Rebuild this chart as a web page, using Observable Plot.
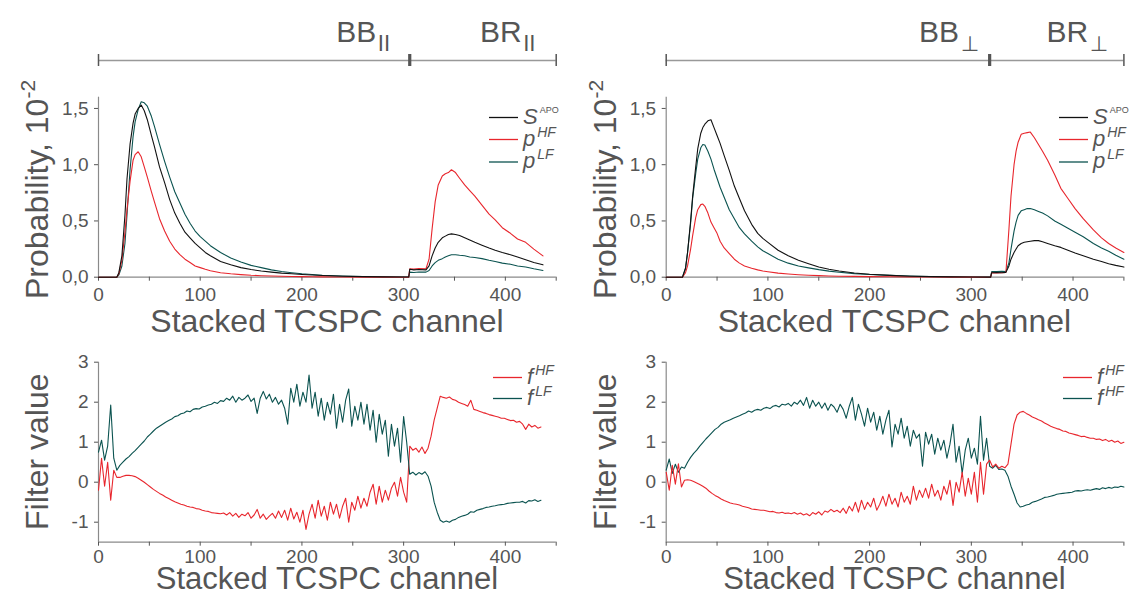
<!DOCTYPE html>
<html><head><meta charset="utf-8">
<script src="https://cdn.jsdelivr.net/npm/d3@7"></script>
<script src="https://cdn.jsdelivr.net/npm/@observablehq/plot@0.6"></script>
<style>
body{margin:0;background:#fff;}
#wrap{position:relative;width:1130px;height:596px;overflow:hidden;background:#fff;}
#wrap > svg{position:absolute;overflow:visible;}
</style></head><body><div id="wrap"></div>
<script>
// ---------- data: top panels (probability, 10^-2) ----------
const chTL = [0,18,20,23,26,28,31,34,36,39,42,45,48,52,55,60,65,70,75,80,85,90,95,100,105,110,120,130,140,150,160,170,180,190,200,210,220,240,260,280,300,305,306,310,315,322,325,328,331,334,338,341,344,347,351,355,360,365,370,377,384,390,397,405,412,420,428,437];
const sApoTL = [0,0,0.04,0.19,0.55,0.87,1.18,1.37,1.45,1.50,1.53,1.48,1.40,1.26,1.16,0.98,0.84,0.69,0.57,0.48,0.40,0.35,0.30,0.26,0.22,0.19,0.14,0.11,0.085,0.068,0.055,0.045,0.036,0.030,0.024,0.019,0.015,0.009,0.005,0.003,0.002,0.002,0.07,0.065,0.068,0.065,0.10,0.19,0.26,0.31,0.35,0.365,0.38,0.385,0.38,0.37,0.35,0.33,0.31,0.285,0.26,0.24,0.22,0.20,0.18,0.155,0.13,0.11];
const pHfTL = [0,0,0.03,0.15,0.40,0.60,0.85,1.04,1.09,1.115,1.07,0.98,0.89,0.76,0.67,0.52,0.41,0.32,0.25,0.20,0.16,0.13,0.10,0.085,0.07,0.058,0.04,0.03,0.023,0.017,0.013,0.01,0.008,0.006,0.005,0.004,0.003,0.002,0.001,0.001,0,0,0.075,0.072,0.078,0.075,0.16,0.43,0.67,0.82,0.90,0.92,0.93,0.955,0.93,0.88,0.82,0.77,0.72,0.64,0.56,0.51,0.44,0.39,0.34,0.31,0.25,0.19];
const pLfTL = [0,0,0.02,0.10,0.30,0.55,0.95,1.25,1.38,1.49,1.56,1.55,1.52,1.43,1.34,1.18,1.03,0.89,0.76,0.66,0.56,0.48,0.41,0.36,0.32,0.28,0.22,0.17,0.135,0.105,0.085,0.065,0.05,0.04,0.03,0.024,0.018,0.011,0.006,0.004,0.002,0.002,0.045,0.042,0.046,0.045,0.06,0.10,0.13,0.15,0.165,0.18,0.19,0.20,0.20,0.195,0.19,0.18,0.175,0.165,0.15,0.14,0.125,0.115,0.10,0.09,0.075,0.06];

const chTR = [0,16,19,21,24,26,29,31,34,36,38,41,44,47,50,53,57,62,67,72,77,84,90,95,100,110,120,130,140,150,160,170,185,200,220,240,260,280,300,319,320,325,330,334,337,339,342,344,346,349,352,355,358,362,366,370,375,382,388,395,402,410,420,428,435,442,450];
const sApoTR = [0,0,0.08,0.22,0.50,0.72,0.98,1.14,1.28,1.33,1.36,1.39,1.40,1.33,1.26,1.19,1.08,0.95,0.81,0.70,0.59,0.47,0.39,0.345,0.31,0.24,0.19,0.15,0.12,0.09,0.07,0.055,0.037,0.026,0.016,0.009,0.005,0.003,0.002,0.001,0.04,0.042,0.04,0.043,0.10,0.16,0.22,0.25,0.28,0.30,0.31,0.315,0.32,0.325,0.325,0.315,0.30,0.28,0.265,0.24,0.215,0.19,0.16,0.14,0.12,0.105,0.09];
const pHfTR = [0,0,0.04,0.10,0.25,0.37,0.53,0.60,0.645,0.65,0.63,0.57,0.49,0.44,0.39,0.32,0.26,0.21,0.16,0.125,0.10,0.08,0.065,0.055,0.048,0.036,0.028,0.022,0.018,0.014,0.011,0.009,0.007,0.005,0.004,0.003,0.002,0.001,0.001,0,0.04,0.038,0.04,0.042,0.43,0.72,1.0,1.12,1.20,1.27,1.28,1.285,1.29,1.24,1.18,1.12,1.04,0.91,0.79,0.70,0.61,0.52,0.42,0.35,0.30,0.26,0.22];
const pLfTR = [0,0,0.08,0.22,0.48,0.70,0.92,1.05,1.15,1.18,1.175,1.12,1.05,0.96,0.88,0.80,0.71,0.60,0.52,0.44,0.385,0.32,0.27,0.235,0.21,0.16,0.125,0.10,0.083,0.067,0.054,0.044,0.032,0.024,0.016,0.01,0.006,0.004,0.002,0.001,0.05,0.05,0.052,0.05,0.13,0.25,0.41,0.49,0.55,0.59,0.60,0.61,0.61,0.60,0.585,0.57,0.545,0.50,0.47,0.435,0.40,0.36,0.30,0.26,0.23,0.195,0.16];

// ---------- data: bottom panels (filter values), channel step 3 ----------
const chStep = 3;
const fLfBL = [0.75,1.05,0.55,0.9,1.93,0.6,0.3,0.42,0.5,0.58,
 0.64,0.72,0.79,0.87,0.95,1.03,1.13,1.2,1.28,1.35,
 1.4,1.45,1.5,1.54,1.58,1.64,1.66,1.71,1.73,1.78,
 1.76,1.82,1.84,1.83,1.88,1.9,1.93,1.95,2.0,1.97,
 2.04,2.02,2.1,2.05,2.15,2.0,2.12,2.05,2.1,2.18,
 2.02,2.1,1.72,2.1,2.27,2.08,2.2,2.0,2.12,1.95,
 2.05,1.85,1.45,2.35,2.0,2.45,1.9,2.25,2.0,2.68,
 1.85,2.25,1.65,2.1,1.55,2.0,1.7,2.2,1.35,1.95,
 1.5,2.05,2.33,1.4,1.9,1.55,2.0,1.45,1.95,1.3,
 1.8,1.0,1.7,1.2,1.55,0.65,1.45,0.9,1.35,0.5,
 1.64,1.0,0.2,0.25,0.18,0.24,0.2,0.26,0.15,-0.1,
 -0.5,-0.75,-0.95,-1.0,-0.97,-1.0,-0.95,-0.93,-0.88,-0.85,
 -0.83,-0.8,-0.74,-0.75,-0.7,-0.68,-0.66,-0.63,-0.62,-0.6,
 -0.59,-0.57,-0.56,-0.55,-0.53,-0.52,-0.51,-0.5,-0.5,-0.48,
 -0.52,-0.46,-0.47,-0.44,-0.48,-0.45];
const fHfBL = [-0.2,0.6,-0.1,0.5,-0.45,0.3,0.12,0.12,0.15,0.17,
 0.17,0.16,0.14,0.1,0.05,0.0,-0.06,-0.12,-0.18,-0.23,
 -0.28,-0.32,-0.37,-0.41,-0.45,-0.49,-0.52,-0.55,-0.57,-0.6,
 -0.62,-0.63,-0.66,-0.67,-0.7,-0.72,-0.73,-0.76,-0.77,-0.78,
 -0.79,-0.77,-0.82,-0.76,-0.85,-0.78,-0.88,-0.8,-0.84,-0.76,
 -0.9,-0.82,-0.68,-0.9,-0.8,-0.93,-0.85,-0.78,-0.9,-0.72,
 -0.88,-0.7,-0.95,-0.65,-0.92,-0.75,-1.0,-0.7,-1.18,-0.8,
 -0.55,-0.9,-0.45,-0.85,-0.6,-0.95,-0.5,-0.8,-0.55,-0.9,
 -0.6,-0.4,-1.0,-0.5,-0.7,-0.35,-0.65,-0.4,-0.6,-0.25,
 -0.05,-0.55,-0.1,-0.5,-0.2,-0.45,-0.15,0.0,-0.35,0.12,
 -0.25,-0.5,0.9,0.8,0.85,0.75,0.88,0.72,0.85,1.15,
 1.55,1.85,2.15,2.12,2.1,2.13,2.07,2.05,2.0,1.97,
 1.94,1.9,2.05,1.82,1.8,1.77,1.74,1.72,1.69,1.67,
 1.65,1.63,1.6,1.6,1.57,1.54,1.55,1.5,1.52,1.45,
 1.32,1.45,1.38,1.42,1.35,1.38];
const fLfBR = [0.3,0.58,0.22,0.45,0.25,0.38,0.35,0.5,0.62,0.72,
 0.8,0.9,0.99,1.08,1.16,1.24,1.32,1.37,1.45,1.5,
 1.53,1.56,1.6,1.63,1.66,1.7,1.73,1.78,1.75,1.8,
 1.82,1.8,1.85,1.87,1.84,1.9,1.92,1.88,1.95,1.93,
 1.97,1.9,2.0,1.95,2.05,1.92,2.12,1.85,2.05,1.9,
 2.0,1.85,1.98,1.8,1.95,1.88,1.75,1.95,1.82,1.6,
 1.9,2.12,1.55,1.95,1.7,1.4,1.85,1.5,1.75,1.3,
 1.65,1.2,1.55,1.8,0.88,1.45,1.2,1.6,1.1,1.4,
 0.9,1.3,1.1,1.2,0.4,1.25,0.95,1.2,0.7,1.1,
 0.8,1.05,0.6,0.95,1.45,0.5,0.9,0.22,0.8,1.1,
 0.6,0.85,0.45,1.65,0.55,1.1,0.4,0.35,0.42,0.32,
 0.33,0.3,0.15,-0.1,-0.3,-0.52,-0.62,-0.6,-0.57,-0.55,
 -0.5,-0.48,-0.45,-0.42,-0.38,-0.37,-0.35,-0.33,-0.3,-0.29,
 -0.28,-0.27,-0.26,-0.25,-0.22,-0.21,-0.22,-0.2,-0.19,-0.2,
 -0.18,-0.16,-0.18,-0.14,-0.16,-0.13,-0.15,-0.12,-0.13,-0.1,-0.12];
const fHfBR = [0.25,-0.2,0.42,-0.05,0.46,-0.12,0.05,0.06,0.05,0.02,
 -0.02,-0.06,-0.1,-0.15,-0.22,-0.28,-0.33,-0.37,-0.42,-0.46,
 -0.49,-0.52,-0.54,-0.55,-0.57,-0.6,-0.62,-0.64,-0.67,-0.68,
 -0.69,-0.7,-0.7,-0.72,-0.74,-0.73,-0.76,-0.77,-0.75,-0.78,
 -0.77,-0.79,-0.76,-0.8,-0.77,-0.82,-0.79,-0.84,-0.76,-0.8,
 -0.74,-0.82,-0.72,-0.75,-0.68,-0.74,-0.7,-0.76,-0.65,-0.78,
 -0.6,-0.72,-0.5,-0.75,-0.45,-0.68,-0.5,-0.62,-0.4,-0.7,
 -0.55,-0.35,-0.6,-0.3,-0.55,-0.4,-0.62,-0.25,-0.5,-0.35,
 -0.55,-0.1,-0.45,-0.2,-0.38,-0.15,-0.4,-0.05,-0.35,-0.2,
 -0.45,-0.1,-0.3,0.05,-0.58,0.0,-0.25,0.25,-0.35,0.1,
 -0.3,0.25,-0.5,0.5,-0.3,0.45,0.55,0.38,0.45,0.35,
 0.4,0.36,0.45,0.95,1.45,1.68,1.75,1.77,1.72,1.68,
 1.63,1.6,1.56,1.53,1.48,1.44,1.4,1.37,1.34,1.32,
 1.28,1.27,1.23,1.21,1.19,1.17,1.14,1.15,1.12,1.1,
 1.1,1.07,1.08,1.04,1.07,1.02,1.05,1.0,1.03,0.97,1.0];

// ---------- labels ----------
const xTicksMajor = [0,100,200,300,400];
const xTicksAll = [0,50,100,150,200,250,300,350,400,450];
const yTicksTop = [0,0.5,1.0,1.5];
const yTicksBottom = [-1,0,1,2,3];
const xTitle = "Stacked TCSPC channel";
const yTitleTop = "Probability, 10";
const yTitleTopExp = "-2";
const yTitleBottom = "Filter value";
const legendTopL = [["S","APO"],["p","HF"],["p","LF"]];
const legendTopR = [["S","APO"],["p","HF"],["p","LF"]];
const legendBotL = [["f","HF"],["f","LF"]];
const legendBotR = [["f","HF"],["f","HF"]];
const boundaryL = 306, boundaryR = 318;

// ---------- style ----------
const FONT = '"Liberation Sans", Arial, Helvetica, sans-serif';
const TXT = "#555";
const C_BLACK = "#111", C_RED = "#e8262d", C_TEAL = "#0b5350";
const wrap = document.getElementById("wrap");

function panel({left, top, height, mL, mR, mT, mB, yDomain, yTicks, yFmt, lines, tickPad}) {
  const marks = [
    Plot.ruleY([yDomain[0]], {stroke:"#8a8a8a", strokeWidth:1.2}),
    Plot.ruleX([0], {stroke:"#8a8a8a", strokeWidth:1.2}),
    Plot.axisX({ticks: xTicksAll, tickFormat: d => xTicksMajor.includes(d) ? String(d) : "", tickSize: 4, tickPadding: tickPad, color: TXT, label: null}),
    Plot.axisY({ticks: yTicks, tickFormat: yFmt, tickSize: 4, tickPadding: 6, color: TXT, label: null}),
    ...lines.map(l => Plot.line(l.y, {x: (d, i) => l.x[i], y: d => d, stroke: l.color, strokeWidth: 1.1}))
  ];
  const svg = Plot.plot({
    width: 565, height, marginLeft: mL, marginRight: mR, marginTop: mT, marginBottom: mB,
    x: {domain: [0, 450]}, y: {domain: yDomain},
    style: {fontFamily: FONT, fontSize: "19px", background: "transparent", overflow: "visible"},
    marks
  });
  svg.style.left = left + "px"; svg.style.top = top + "px";
  wrap.appendChild(svg);
  return svg;
}

function addTitles(svg, {xCenter, xBase, xSize, yX, yY, rotText, exp, anchor}) {
  const s = d3.select(svg);
  s.append("text").attr("x", xCenter).attr("y", xBase).attr("text-anchor", "middle")
    .attr("font-family", FONT).attr("font-size", xSize).attr("fill", TXT).text(xTitle);
  const t = s.append("text").attr("transform", `translate(${yX},${yY}) rotate(-90)`)
    .attr("text-anchor", anchor).attr("font-family", FONT).attr("font-size", 32).attr("fill", TXT);
  t.append("tspan").text(rotText);
  if (exp) t.append("tspan").attr("dy", -13).attr("font-size", 21).text(exp);
}

function addLegend(svg, x0, ys, items, colors) {
  const g = d3.select(svg).append("g").attr("text-anchor", "start");
  items.forEach((it, i) => {
    g.append("line").attr("x1", x0).attr("x2", x0 + 29).attr("y1", ys[i]).attr("y2", ys[i])
      .attr("stroke", colors[i]).attr("stroke-width", 1.3);
    const t = g.append("text").attr("x", x0 + 34).attr("y", ys[i] + 6).attr("fill", TXT)
      .attr("text-anchor", "start")
      .attr("font-family", FONT).attr("font-size", 22).attr("font-style", "italic");
    t.append("tspan").text(it[0]);
    const small = it[1] === "APO";
    t.append("tspan").attr("dx", 2).attr("dy", small ? -11 : -9)
      .attr("font-size", small ? 9 : 14).attr("font-style", small ? "normal" : "italic").text(it[1]);
  });
}

function header({left, mL, mR, marker, bbEnd, brEnd, sub}) {
  const svg = Plot.plot({
    width: 565, height: 75, marginLeft: mL, marginRight: mR, marginTop: 0, marginBottom: 15,
    x: {domain: [0, 450], axis: null}, y: {domain: [0, 60], axis: null},
    style: {fontFamily: FONT, background: "transparent", overflow: "visible"},
    marks: [
      Plot.ruleY([0], {x1: 0, x2: 450, stroke: "#999", strokeWidth: 1.4}),
      Plot.ruleX([0, 450], {y1: -6, y2: 6, stroke: "#555", strokeWidth: 1.5}),
      Plot.ruleX([marker], {y1: -6, y2: 6, stroke: "#555", strokeWidth: 3.2}),
      Plot.text(["BB"], {x: bbEnd, y: 19, text: d => d, textAnchor: "end", lineAnchor: "bottom", fontSize: 30, fill: TXT}),
      Plot.text([sub], {x: bbEnd + 1.5, y: 10, text: d => d, textAnchor: "start", lineAnchor: "bottom", fontSize: 21, fill: TXT, fontFamily: "DejaVu Sans"}),
      Plot.text(["BR"], {x: brEnd, y: 19, text: d => d, textAnchor: "end", lineAnchor: "bottom", fontSize: 30, fill: TXT}),
      Plot.text([sub], {x: brEnd + 1.5, y: 10, text: d => d, textAnchor: "start", lineAnchor: "bottom", fontSize: 21, fill: TXT, fontFamily: "DejaVu Sans"})
    ]
  });
  svg.style.left = left + "px"; svg.style.top = "0px";
  wrap.appendChild(svg);
}

const fmtTop = d => d.toFixed(1).replace(".", ",");
const fmtBot = d => String(d);
const chBL = d3.range(0, fLfBL.length * chStep, chStep);
const chBR = d3.range(0, fLfBR.length * chStep, chStep);

// top-left
const tl = panel({left: 0, top: 0, height: 340, mL: 98, mR: 9.3, mT: 96.7, mB: 63.3, yDomain: [0, 1.6], yTicks: yTicksTop, yFmt: fmtTop, tickPad: 6,
  lines: [{x: chTL, y: pLfTL, color: C_TEAL}, {x: chTL, y: pHfTL, color: C_RED}, {x: chTL, y: sApoTL, color: C_BLACK}]});
addTitles(tl, {xCenter: 327, xBase: 332, xSize: 32, yX: 48, yY: 299, rotText: yTitleTop, exp: yTitleTopExp, anchor: "start"});
addLegend(tl, 489, [117.5, 139.5, 162], legendTopL, [C_BLACK, C_RED, C_TEAL]);

// top-right
const tr = panel({left: 565, top: 0, height: 340, mL: 100.7, mR: 6.6, mT: 96.7, mB: 63.3, yDomain: [0, 1.6], yTicks: yTicksTop, yFmt: fmtTop, tickPad: 6,
  lines: [{x: chTR, y: pLfTR, color: C_TEAL}, {x: chTR, y: pHfTR, color: C_RED}, {x: chTR, y: sApoTR, color: C_BLACK}]});
addTitles(tr, {xCenter: 329.4, xBase: 332, xSize: 32, yX: 50.7, yY: 299, rotText: yTitleTop, exp: yTitleTopExp, anchor: "start"});
addLegend(tr, 494, [117.5, 139.5, 162], legendTopR, [C_BLACK, C_RED, C_TEAL]);

// bottom-left
const bl = panel({left: 0, top: 340, height: 256, mL: 98, mR: 9.3, mT: 21.7, mB: 54.3, yDomain: [-1.5, 3], yTicks: yTicksBottom, yFmt: fmtBot, tickPad: 3,
  lines: [{x: chBL, y: fHfBL, color: C_RED}, {x: chBL, y: fLfBL, color: C_TEAL}]});
addTitles(bl, {xCenter: 327, xBase: 248.5, xSize: 31, yX: 48, yY: 111.7, rotText: yTitleBottom, exp: null, anchor: "middle"});
addLegend(bl, 493, [37.5, 58.5], legendBotL, [C_RED, C_TEAL]);

// bottom-right
const br = panel({left: 565, top: 340, height: 256, mL: 100.7, mR: 6.6, mT: 21.7, mB: 54.3, yDomain: [-1.5, 3], yTicks: yTicksBottom, yFmt: fmtBot, tickPad: 3,
  lines: [{x: chBR, y: fLfBR, color: C_TEAL}, {x: chBR, y: fHfBR, color: C_RED}]});
addTitles(br, {xCenter: 329.4, xBase: 248.5, xSize: 31, yX: 50.7, yY: 111.7, rotText: yTitleBottom, exp: null, anchor: "middle"});
addLegend(br, 498, [37.5, 58.5], legendBotR, [C_RED, C_TEAL]);

// headers
header({left: 0, mL: 98, mR: 9.3, marker: boundaryL, bbEnd: 273, brEnd: 416, sub: "II"});
header({left: 565, mL: 100.7, mR: 6.6, marker: boundaryR, bbEnd: 288, brEnd: 415, sub: "⊥"});
</script></body></html>
